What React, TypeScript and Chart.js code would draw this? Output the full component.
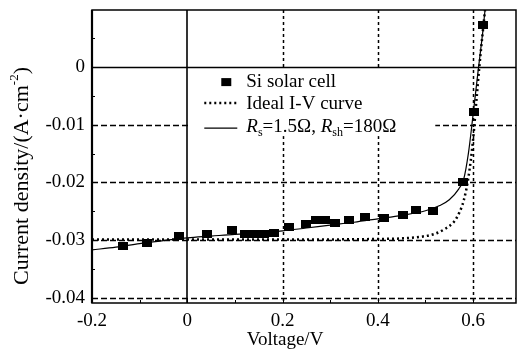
import React, { useEffect, useRef } from "react";
import { Chart, registerables } from "chart.js";
Chart.register(...registerables);

// ---- data ----
const cellV = [-0.135, -0.085, -0.018, 0.042, 0.093, 0.122, 0.143, 0.162, 0.181, 0.213, 0.249, 0.27, 0.29, 0.311, 0.34, 0.373, 0.412, 0.452, 0.481, 0.516, 0.578, 0.601, 0.62];
const cellJ = [-0.031, -0.0305, -0.0293, -0.0289, -0.0282, -0.0289, -0.0289, -0.0289, -0.0288, -0.0277, -0.0272, -0.0265, -0.0265, -0.027, -0.0265, -0.026, -0.0262, -0.0256, -0.0248, -0.0249, -0.0199, -0.0078, 0.0073];

const idealV = [-0.2, 0, 0.2, 0.4, 0.45, 0.5, 0.52, 0.54, 0.56, 0.57, 0.58, 0.59, 0.6, 0.607, 0.613, 0.62, 0.625];
const idealJ = [-0.0299, -0.0299, -0.0299, -0.0298, -0.0297, -0.0293, -0.0289, -0.0281, -0.0268, -0.0254, -0.0232, -0.0192, -0.0125, -0.0057, 0, 0.0059, 0.0099];

const fitV = [-0.2, -0.15, -0.1, -0.05, 0, 0.05, 0.1, 0.15, 0.2, 0.25, 0.3, 0.35, 0.4, 0.45, 0.5, 0.53, 0.55, 0.57, 0.58, 0.59, 0.6, 0.61, 0.62, 0.625];
const fitJ = [-0.0317, -0.0312, -0.0306, -0.0301, -0.0296, -0.0293, -0.029, -0.0288, -0.0284, -0.0279, -0.0274, -0.0269, -0.0263, -0.0257, -0.0249, -0.024, -0.023, -0.0211, -0.0195, -0.015, -0.0082, -0.001, 0.0059, 0.0099];

const xTicks = [-0.2, 0, 0.2, 0.4, 0.6];
const yTicks = [-0.04, -0.03, -0.02, -0.01, 0];
const xTickLabels = ["-0.2", "0", "0.2", "0.4", "0.6"];
const yTickLabels = ["-0.04", "-0.03", "-0.02", "-0.01", "0"];
const xTitle = "Voltage/V";
const yTitleMain = "Current density/(A·cm";
const yTitleSup = "-2";
const yTitleEnd = ")";
const legendCell = "Si solar cell";
const legendIdeal = "Ideal I-V curve";
const legendFitParts = [
  { t: "R", italic: true, sub: false },
  { t: "s", italic: false, sub: true },
  { t: "=1.5Ω, ", italic: false, sub: false },
  { t: "R", italic: true, sub: false },
  { t: "sh", italic: false, sub: true },
  { t: "=180Ω", italic: false, sub: false },
];

const FAM = "'Liberation Serif', 'DejaVu Serif', serif";

function makeSquare(w: number, h: number) {
  const c = document.createElement("canvas");
  c.width = w;
  c.height = h;
  const g = c.getContext("2d")!;
  g.fillStyle = "#000";
  g.fillRect(0, 0, w, h);
  return c;
}

const deco = {
  id: "deco",
  beforeDatasetsDraw(chart: any) {
    const { ctx, chartArea: a, scales } = chart;
    const x = scales.x, y = scales.y;
    ctx.save();
    ctx.strokeStyle = "#000";
    ctx.lineWidth = 1.3;
    ctx.setLineDash([6, 3]);
    for (const t of yTicks) {
      if (t === 0) continue;
      const py = Math.round(y.getPixelForValue(t)) + 0.5;
      ctx.beginPath(); ctx.moveTo(a.left, py); ctx.lineTo(a.right, py); ctx.stroke();
    }
    ctx.setLineDash([3, 3]);
    ctx.lineWidth = 1.5;
    for (const t of xTicks) {
      if (t <= 0) continue;
      const px = Math.round(x.getPixelForValue(t)) + 0.5;
      ctx.beginPath(); ctx.moveTo(px, a.top); ctx.lineTo(px, a.bottom); ctx.stroke();
    }
    ctx.setLineDash([]);
    // legend box
    const x0 = x.getPixelForValue(0);
    const y0 = y.getPixelForValue(0);
    ctx.fillStyle = "#fff";
    ctx.fillRect(x0 + 2, y0 + 2, 246, 67);
    // zero lines
    ctx.lineWidth = 1.4;
    ctx.beginPath(); ctx.moveTo(a.left, Math.round(y0) + 0.5); ctx.lineTo(a.right, Math.round(y0) + 0.5); ctx.stroke();
    ctx.lineWidth = 1.6;
    ctx.beginPath(); ctx.moveTo(Math.round(x0), a.top); ctx.lineTo(Math.round(x0), a.bottom); ctx.stroke();

    // legend items
    const lx = x0 + 17, tx = x0 + 59;
    ctx.fillStyle = "#000";
    ctx.fillRect(x0 + 34, y0 + 11, 10, 8);
    ctx.font = `19px ${FAM}`;
    ctx.textBaseline = "alphabetic";
    ctx.textAlign = "left";
    ctx.fillText(legendCell, tx, y0 + 20);
    ctx.lineWidth = 2.5;
    ctx.setLineDash([2, 3]);
    ctx.beginPath(); ctx.moveTo(lx, y0 + 36); ctx.lineTo(lx + 33, y0 + 36); ctx.stroke();
    ctx.fillText(legendIdeal, tx, y0 + 42);
    ctx.setLineDash([]);
    ctx.lineWidth = 1.2;
    ctx.beginPath(); ctx.moveTo(lx, y0 + 61); ctx.lineTo(lx + 33, y0 + 61); ctx.stroke();
    let cx = tx;
    for (const p of legendFitParts) {
      ctx.font = p.sub ? `12px ${FAM}` : `${p.italic ? "italic " : ""}19px ${FAM}`;
      ctx.fillText(p.t, cx, y0 + 65 + (p.sub ? 4 : 0));
      cx += ctx.measureText(p.t).width;
    }
    ctx.restore();
  },
  afterDraw(chart: any) {
    const { ctx, chartArea: a, scales } = chart;
    const x = scales.x, y = scales.y;
    ctx.save();
    ctx.strokeStyle = "#000";
    ctx.lineWidth = 1.5;
    ctx.strokeRect(a.left, a.top, a.right - a.left, a.bottom - a.top);
    ctx.lineWidth = 2.2;
    ctx.beginPath(); ctx.moveTo(a.left, a.top); ctx.lineTo(a.left, a.bottom); ctx.stroke();
    ctx.lineWidth = 1;
    // ticks
    for (let k = -2; k <= 6; k++) {
      const v = k * 0.1;
      const px = Math.round(x.getPixelForValue(v)) + 0.5;
      const major = k % 2 === 0;
      ctx.beginPath(); ctx.moveTo(px, a.bottom); ctx.lineTo(px, a.bottom - (major ? 5 : 3)); ctx.stroke();
    }
    for (let k = -8; k <= 1; k++) {
      const v = k * 0.005;
      const py = Math.round(y.getPixelForValue(v)) + 0.5;
      ctx.beginPath(); ctx.moveTo(a.left, py); ctx.lineTo(a.left + (k % 2 === 0 ? 5 : 3), py); ctx.stroke();
    }
    // titles
    ctx.fillStyle = "#000";
    ctx.font = `19px ${FAM}`;
    ctx.textAlign = "center";
    ctx.textBaseline = "middle";
    ctx.fillText(xTitle, 285, 340);
    ctx.translate(22, 176);
    ctx.rotate(-Math.PI / 2);
    ctx.textAlign = "left";
    ctx.textBaseline = "middle";
    ctx.font = `22px ${FAM}`;
    const w1 = ctx.measureText(yTitleMain).width;
    ctx.font = `13px ${FAM}`;
    const w2 = ctx.measureText(yTitleSup).width;
    ctx.font = `22px ${FAM}`;
    const w3 = ctx.measureText(yTitleEnd).width;
    let sx = -(w1 + w2 + w3) / 2;
    ctx.fillText(yTitleMain, sx, 0);
    sx += w1;
    ctx.font = `13px ${FAM}`;
    ctx.fillText(yTitleSup, sx, -7);
    sx += w2;
    ctx.font = `22px ${FAM}`;
    ctx.fillText(yTitleEnd, sx, 0);
    ctx.restore();
  },
};

export default function App() {
  const ref = useRef<HTMLCanvasElement>(null);
  useEffect(() => {
    const sq = makeSquare(10, 8);
    const chart = new Chart(ref.current!, {
      type: "scatter",
      data: {
        datasets: [
          {
            label: "fit",
            data: fitV.map((v, i) => ({ x: v, y: fitJ[i] })),
            showLine: true,
            borderColor: "#000",
            borderWidth: 1.2,
            pointRadius: 0,
            cubicInterpolationMode: "monotone",
          } as any,
          {
            label: "ideal",
            data: idealV.map((v, i) => ({ x: v, y: idealJ[i] })),
            showLine: true,
            borderColor: "#000",
            borderWidth: 2.5,
            borderDash: [2, 3],
            pointRadius: 0,
            cubicInterpolationMode: "monotone",
          } as any,
          {
            label: "cell",
            data: cellV.map((v, i) => ({ x: v, y: cellJ[i] })),
            pointStyle: sq,
            pointRadius: 5,
            backgroundColor: "#000",
            borderColor: "#000",
          } as any,
        ],
      },
      options: {
        responsive: false,
        animation: false,
        layout: { padding: { top: 10, right: 1, left: 0, bottom: 0 } },
        plugins: { legend: { display: false }, tooltip: { enabled: false } },
        scales: {
          x: {
            type: "linear",
            min: -0.2,
            max: 0.69,
            grid: { display: false, drawTicks: false, tickLength: 0 },
            border: { display: false },
            afterBuildTicks: (s: any) => { s.ticks = xTicks.map((v) => ({ value: v })); },
            afterFit: (s: any) => { s.height = 53; s.paddingLeft = 0; s.paddingRight = 0; },
            ticks: {
              color: "#000",
              padding: 7,
              maxRotation: 0,
              font: { family: FAM, size: 19 },
              callback: (v: any) => xTickLabels[xTicks.findIndex((t) => Math.abs(t - v) < 1e-6)] ?? "",
            },
          },
          y: {
            type: "linear",
            min: -0.0409,
            max: 0.0099,
            grid: { display: false, drawTicks: false, tickLength: 0 },
            border: { display: false },
            afterBuildTicks: (s: any) => { s.ticks = yTicks.map((v) => ({ value: v })); },
            afterFit: (s: any) => { s.width = 92; s.paddingTop = 0; s.paddingBottom = 0; },
            ticks: {
              color: "#000",
              padding: 7,
              font: { family: FAM, size: 19 },
              callback: (v: any) => yTickLabels[yTicks.findIndex((t) => Math.abs(t - v) < 1e-6)] ?? "",
            },
          },
        },
      },
      plugins: [deco],
    });
    return () => chart.destroy();
  }, []);
  return (
    <div style={{ position: "absolute", left: 0, top: 0, width: 522, height: 356, background: "#fff" }}>
      <canvas ref={ref} width={522} height={356} />
    </div>
  );
}
